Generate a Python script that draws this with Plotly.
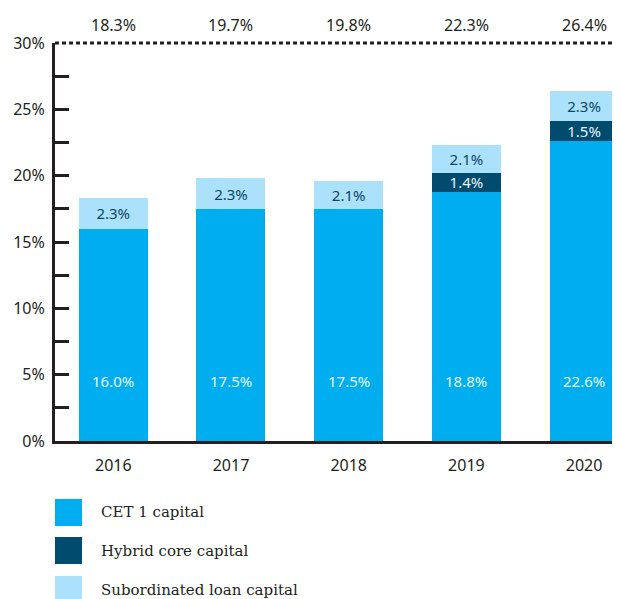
import plotly.graph_objects as go

years = ["2016", "2017", "2018", "2019", "2020"]
cet1 = [16.0, 17.5, 17.5, 18.8, 22.6]
hybrid = [None, None, None, 1.4, 1.5]
subordinated = [2.3, 2.3, 2.1, 2.1, 2.3]
totals = ["18.3%", "19.7%", "19.8%", "22.3%", "26.4%"]
y_ticks = [0, 2.5, 5, 7.5, 10, 12.5, 15, 17.5, 20, 22.5, 25, 27.5, 30]
y_ticktext = ["0%", "", "5%", "", "10%", "", "15%", "", "20%", "", "25%", "", "30%"]
legend_names = ["CET 1 capital", "Hybrid core capital", "Subordinated loan capital"]

C_CET = "#00AEEF"
C_HYB = "#004B6E"
C_SUB = "#ABE1FA"
DARK = "#231F20"
NUM_FONT = "Noto Sans"

OFF = 8  # page body margin
W, H = 620 - OFF, 599 - OFF
L, R, T, B = 55 - OFF, 0, 43 - OFF, 599 - 441
PW, PH = W - L - R, H - T - B

def px_x(p):
    return (p - OFF - L) / PW

def px_y(p):
    return (H - B - (p - OFF)) / PH

fig = go.Figure()
fig.add_trace(go.Bar(x=years, y=cet1, name=legend_names[0], marker=dict(color=C_CET, line=dict(width=0)),
                     hoverinfo="skip"))
fig.add_trace(go.Bar(x=years, y=hybrid, name=legend_names[1], marker=dict(color=C_HYB, line=dict(width=0)),
                     text=[f"{v:.1f}%" if v else "" for v in hybrid], textposition="inside",
                     insidetextanchor="middle", textangle=0,
                     insidetextfont=dict(color="#E8F4FA", size=15, family=NUM_FONT), hoverinfo="skip"))
fig.add_trace(go.Bar(x=years, y=subordinated, name=legend_names[2], marker=dict(color=C_SUB, line=dict(width=0)),
                     text=[f"{v:.1f}%" for v in subordinated], textposition="inside",
                     insidetextanchor="middle", textangle=0,
                     insidetextfont=dict(color="#0B4668", size=15, family=NUM_FONT), hoverinfo="skip"))

annotations = []
for i, v in enumerate(cet1):
    annotations.append(dict(x=i, y=4.5, xref="x", yref="y", text=f"{v:.1f}%", showarrow=False,
                            font=dict(color="#E6F6FD", size=15, family=NUM_FONT)))
for i, t in enumerate(totals):
    annotations.append(dict(x=i, y=1, xref="x", yref="paper", text=t, showarrow=False, yanchor="middle",
                            yshift=18, font=dict(color=DARK, size=16, family=NUM_FONT)))

shapes = [dict(type="line", xref="paper", yref="paper", x0=0, x1=1, y0=1, y1=1,
               line=dict(color=DARK, width=3, dash="4px,3px"), layer="above")]

leg_colors = [C_CET, C_HYB, C_SUB]
leg_tops = [499, 537, 576]
for name, col, top in zip(legend_names, leg_colors, leg_tops):
    shapes.append(dict(type="rect", xref="paper", yref="paper", x0=px_x(55), x1=px_x(82),
                       y0=px_y(top + 27), y1=px_y(top), fillcolor=col, line=dict(width=0)))
    annotations.append(dict(x=px_x(99), y=px_y(top + 13.5), xref="paper", yref="paper", text=name,
                            showarrow=False, xanchor="left", yanchor="middle",
                            font=dict(color=DARK, size=15, family="DejaVu Serif")))

fig.update_layout(
    width=W, height=H, barmode="stack", bargap=0.414,
    margin=dict(l=L, r=R, t=T, b=B, pad=0),
    plot_bgcolor="white", paper_bgcolor="white",
    showlegend=False, uniformtext=dict(minsize=15, mode="show"),
    annotations=annotations, shapes=shapes,
    xaxis=dict(type="category", range=[-0.495, 4.305], showline=True, linecolor=DARK, linewidth=3,
               ticks="", showgrid=False, zeroline=False, ticklabelstandoff=8,
               tickfont=dict(color=DARK, size=16, family=NUM_FONT)),
    yaxis=dict(range=[0, 30], tickvals=y_ticks, ticktext=y_ticktext, ticks="inside", ticklen=14,
               tickwidth=3, tickcolor=DARK, showline=True, linecolor=DARK, linewidth=3,
               showgrid=False, zeroline=False, ticklabelstandoff=4,
               tickfont=dict(color=DARK, size=16, family=NUM_FONT)),
)

fig.write_html("out.html")
